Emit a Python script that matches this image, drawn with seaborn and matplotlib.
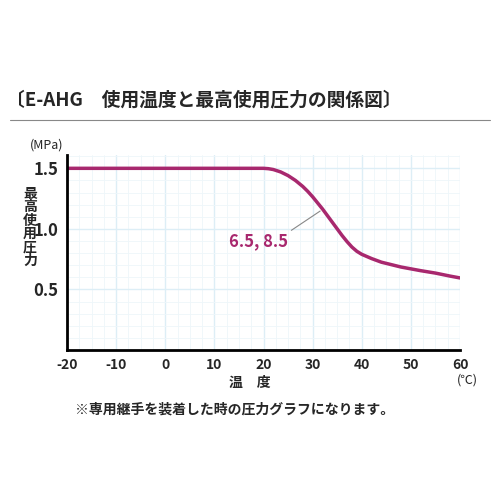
import matplotlib
matplotlib.use("Agg")
import matplotlib.pyplot as plt
import seaborn as sns
import numpy as np

sns.set_style("white")
plt.rcParams['font.family'] = ['Noto Sans CJK JP', 'DejaVu Sans']

temp = [-20, 0, 19, 20, 21, 22, 23.5, 25, 26.5, 28, 29, 30, 31, 32, 33, 34, 35, 36, 37, 38, 39, 40,
        42, 44, 46, 48, 50, 52, 55, 58, 60]
pressure = [1.5, 1.5, 1.5, 1.5, 1.497, 1.49, 1.47, 1.44, 1.40, 1.35, 1.31, 1.265, 1.215, 1.165,
            1.11, 1.055, 1.0, 0.945, 0.895, 0.85, 0.815, 0.79, 0.755, 0.725, 0.705, 0.685,
            0.67, 0.655, 0.635, 0.61, 0.595]
xticks = [-20, -10, 0, 10, 20, 30, 40, 50, 60]
yticks = [0.5, 1.0, 1.5]
col = "#a8286e"

fig = plt.figure(figsize=(5, 5), dpi=100)
ax = fig.add_axes([0.134, 0.30, 0.786, 0.39])
sns.lineplot(x=temp, y=pressure, ax=ax, color=col, lw=2.5)
ax.set_xlim(-20, 60)
ax.set_ylim(0, 1.61)
ax.set_xticks(xticks)
ax.set_yticks(yticks)
ax.set_yticklabels(["0.5", "1.0", "1.5"], fontsize=12, fontweight='bold')
ax.set_xticklabels([str(t) for t in xticks], fontsize=10, fontweight='bold')
ax.set_xticks(np.arange(-20, 61, 2.5), minor=True)
ax.set_yticks(np.arange(0, 1.61, 0.1), minor=True)
ax.grid(which='minor', color='#eef6fa', lw=0.6)
ax.grid(which='major', color='#ddeef6', lw=1.0)
ax.tick_params(length=0, pad=6)
for s in ['top', 'right']:
    ax.spines[s].set_visible(False)
for s in ['left', 'bottom']:
    ax.spines[s].set_linewidth(2)
    ax.spines[s].set_color('black')

ax.annotate("6.5, 8.5", xy=(32, 1.16), xytext=(19, 0.97), fontsize=12, fontweight='bold',
            color=col, ha='center', va='top',
            arrowprops=dict(arrowstyle='-', color='#888888', lw=0.8, shrinkA=0, relpos=(1, 1)))

fig.text(0.012, 0.80, "〔E-AHG　使用温度と最高使用圧力の関係図〕", fontsize=13.5, fontweight='bold', va='center')
fig.add_artist(plt.Line2D([0.02, 0.98], [0.76, 0.76], color='#888888', lw=0.8))
fig.text(0.06, 0.71, "(MPa)", fontsize=9, va='center')
fig.text(0.06, 0.545, "最\n高\n使\n用\n圧\n力", fontsize=10, fontweight='bold', ha='center', va='center', linespacing=0.95)
fig.text(0.50, 0.235, "温　度", fontsize=10, fontweight='bold', ha='center', va='center')
fig.text(0.935, 0.24, "(℃)", fontsize=9, ha='center', va='center')
fig.text(0.15, 0.18, "※専用継手を装着した時の圧力グラフになります。", fontsize=10, fontweight='bold', va='center')

fig.savefig("out.png", dpi=100, facecolor='white')
